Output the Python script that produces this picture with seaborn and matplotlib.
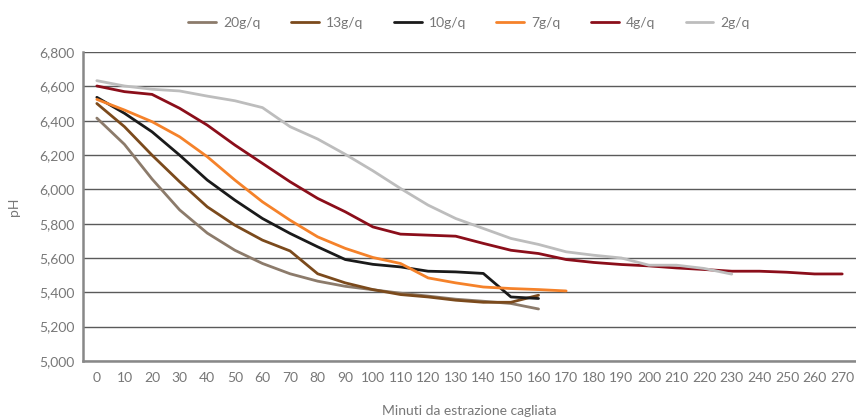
import pandas as pd
import matplotlib.pyplot as plt
import matplotlib.ticker as mticker
import seaborn as sns

# data (pH vs minutes)
min_20 = [0, 10, 20, 30, 40, 50, 60, 70, 80, 90, 100, 110, 120, 130, 140, 150, 160]
ph_20 = [6415, 6262, 6060, 5880, 5745, 5645, 5568, 5508, 5465, 5435, 5415, 5395, 5378, 5360, 5348, 5335, 5303]

min_13 = [0, 10, 20, 30, 40, 50, 60, 70, 80, 90, 100, 110, 120, 130, 140, 150, 160]
ph_13 = [6500, 6365, 6199, 6044, 5898, 5791, 5704, 5641, 5508, 5455, 5416, 5387, 5373, 5354, 5342, 5342, 5383]

min_10 = [0, 10, 20, 30, 40, 50, 60, 70, 80, 90, 100, 110, 120, 130, 140, 150, 160]
ph_10 = [6536, 6443, 6335, 6199, 6054, 5937, 5830, 5743, 5665, 5591, 5563, 5548, 5523, 5519, 5510, 5373, 5364]

min_7 = [0, 10, 20, 30, 40, 50, 60, 70, 80, 90, 100, 110, 120, 130, 140, 150, 160, 170]
ph_7 = [6524, 6462, 6394, 6306, 6190, 6054, 5927, 5820, 5723, 5656, 5603, 5568, 5484, 5455, 5431, 5422, 5416, 5408]

min_4 = list(range(0, 280, 10))
ph_4 = [6602, 6569, 6553, 6472, 6374, 6258, 6151, 6044, 5947, 5869, 5781, 5739, 5733, 5727, 5685, 5645,
        5626, 5591, 5574, 5562, 5554, 5542, 5533, 5523, 5523, 5517, 5507, 5507]

min_2 = list(range(0, 240, 10))
ph_2 = [6633, 6602, 6583, 6573, 6543, 6516, 6476, 6365, 6293, 6204, 6108, 6005, 5908, 5830, 5772, 5714,
        5679, 5636, 5616, 5600, 5558, 5558, 5539, 5506]

labels = ['20g/q', '13g/q', '10g/q', '7g/q', '4g/q', '2g/q']
colors = ['#8c7b6b', '#7b4a1c', '#1a1a1a', '#f5822a', '#8b0e1a', '#bdbdbd']

frames = []
for lab, m, p in zip(labels, [min_20, min_13, min_10, min_7, min_4, min_2],
                     [ph_20, ph_13, ph_10, ph_7, ph_4, ph_2]):
    frames.append(pd.DataFrame({'Minuti': m, 'pH': p, 'serie': lab}))
df = pd.concat(frames, ignore_index=True)

sns.set_style('white')
plt.rcParams['font.family'] = ['Lato', 'DejaVu Sans']
grey = '#777777'

fig = plt.figure(figsize=(8.56, 4.18), dpi=100)
ax = fig.add_axes([0.097, 0.1364, 0.903, 0.7392])

sns.lineplot(data=df, x='Minuti', y='pH', hue='serie', hue_order=labels,
             palette=dict(zip(labels, colors)), linewidth=2, ax=ax, legend=False)

ax.set_xlim(-5, 275)
ax.set_ylim(5000, 6800)
ax.set_yticks(range(5000, 6801, 200))
ax.yaxis.set_major_formatter(mticker.FuncFormatter(lambda v, p: f'{int(v):,}'))
ax.set_xticks(range(0, 271, 10))
ax.set_xticks(range(-5, 276, 10), minor=True)
ax.tick_params(axis='x', which='major', length=0, pad=8, labelsize=10, labelcolor=grey)
ax.tick_params(axis='x', which='minor', length=4, width=1.2, color=grey, direction='out')
ax.tick_params(axis='y', length=0, labelsize=10, labelcolor=grey, pad=6)
ax.yaxis.grid(True, color='#5a5a5a', linewidth=1)
ax.set_axisbelow(True)

for s in ['top', 'right']:
    ax.spines[s].set_visible(False)
ax.spines['left'].set_color('#888888')
ax.spines['left'].set_linewidth(1.8)
ax.spines['bottom'].set_color('#888888')
ax.spines['bottom'].set_linewidth(1.8)

ax.set_xlabel('Minuti da estrazione cagliata', fontsize=10, color=grey, labelpad=15)
ax.set_ylabel('pH', fontsize=10, color=grey, labelpad=14)

handles = [plt.Line2D([], [], color=c, linewidth=2) for c in colors]
fig.legend(handles, labels, loc='center', bbox_to_anchor=(0.548, 0.945), ncol=6, frameon=False,
           fontsize=10, handlelength=2.0, handletextpad=0.5, columnspacing=2.2, labelcolor=grey)

fig.savefig('out.png', dpi=100)
